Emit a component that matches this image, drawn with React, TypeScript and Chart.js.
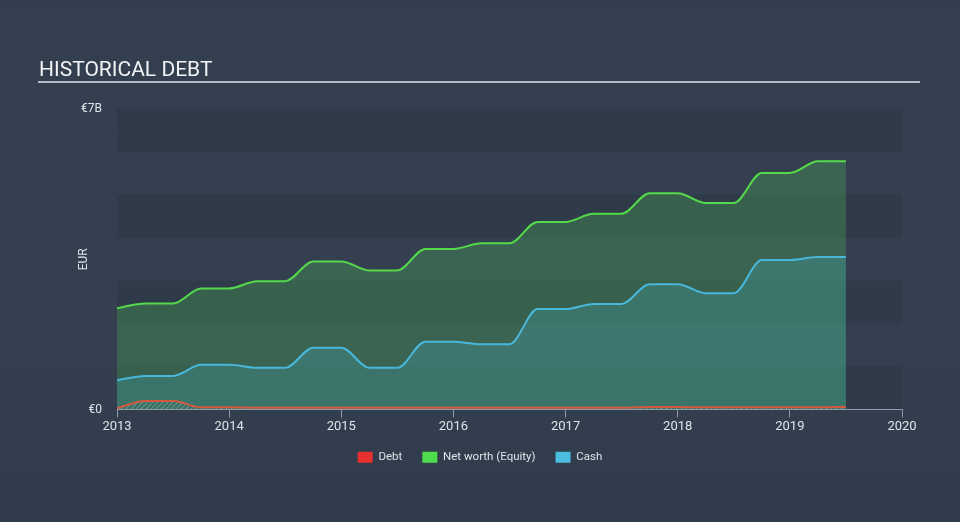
import React, { useEffect, useRef } from 'react';
import { Chart, registerables } from 'chart.js';

Chart.register(...registerables);

const titleText = 'HISTORICAL DEBT';
const seriesLabels = ['Debt', 'Net worth (Equity)', 'Cash'];
const legendColors = ['#e8302e', '#4fdc4c', '#4bbde0'];

const quarters = [
  2013, 2013.25, 2013.5, 2013.75, 2014, 2014.25, 2014.5, 2014.75, 2015,
  2015.25, 2015.5, 2015.75, 2016, 2016.25, 2016.5, 2016.75, 2017,
  2017.25, 2017.5, 2017.75, 2018, 2018.25, 2018.5, 2018.75, 2019,
  2019.25, 2019.5,
];

const debt = [
  0.03, 0.2, 0.2, 0.05, 0.05, 0.04, 0.04, 0.04, 0.04,
  0.04, 0.04, 0.04, 0.04, 0.04, 0.04, 0.04, 0.04,
  0.04, 0.04, 0.06, 0.06, 0.05, 0.05, 0.05, 0.05,
  0.05, 0.06,
];

const netWorth = [
  2.36, 2.47, 2.47, 2.82, 2.82, 2.99, 2.99, 3.45, 3.45,
  3.24, 3.24, 3.74, 3.74, 3.87, 3.87, 4.37, 4.37,
  4.56, 4.56, 5.04, 5.04, 4.81, 4.81, 5.51, 5.51,
  5.78, 5.78,
];

const cash = [
  0.68, 0.78, 0.78, 1.04, 1.04, 0.97, 0.97, 1.44, 1.44,
  0.97, 0.97, 1.58, 1.58, 1.52, 1.52, 2.34, 2.34,
  2.46, 2.46, 2.92, 2.92, 2.71, 2.71, 3.48, 3.48,
  3.55, 3.55,
];

const yTicks = [0, 7];
const xTicks = [2013, 2014, 2015, 2016, 2017, 2018, 2019, 2020];

const toPoints = (vals: number[]) => vals.map((v, i) => ({ x: quarters[i], y: v }));

export default function App() {
  const ref = useRef<HTMLCanvasElement>(null);

  useEffect(() => {
    document.body.style.margin = '0';
    const canvas = ref.current!;
    const ctx = canvas.getContext('2d')!;

    const pc = document.createElement('canvas');
    pc.width = 5;
    pc.height = 5;
    const p = pc.getContext('2d')!;
    p.strokeStyle = 'rgba(175,175,175,0.55)';
    p.lineWidth = 1;
    p.beginPath();
    p.moveTo(0, 5);
    p.lineTo(5, 0);
    p.moveTo(-1, 1);
    p.lineTo(1, -1);
    p.moveTo(4, 6);
    p.lineTo(6, 4);
    p.stroke();
    const hatch = ctx.createPattern(pc, 'repeat');

    const bandsPlugin = {
      id: 'bands',
      beforeDraw(chart: any) {
        const { ctx: c, chartArea } = chart;
        const y = chart.scales.y;
        c.save();
        c.fillStyle = 'rgba(20,28,40,0.13)';
        for (let v = 0; v < 7; v += 2) {
          const top = y.getPixelForValue(v + 1);
          const bottom = y.getPixelForValue(v);
          c.fillRect(chartArea.left, top, chartArea.right - chartArea.left, bottom - top);
        }
        c.restore();
      },
    };

    const titlePlugin = {
      id: 'titleLine',
      afterDraw(chart: any) {
        const c = chart.ctx;
        c.save();
        c.fillStyle = '#f2f3f5';
        c.font = '21px Roboto';
        c.textBaseline = 'alphabetic';
        c.textAlign = 'left';
        c.fillText(titleText, 39, 76);
        c.fillStyle = '#b4bbc4';
        c.fillRect(38, 81, 882, 2);
        c.restore();
      },
    };

    const chart = new Chart(canvas, {
      type: 'line',
      data: {
        datasets: [
          {
            label: seriesLabels[0],
            data: toPoints(debt),
            borderColor: '#d4593f',
            backgroundColor: hatch as any,
            borderWidth: 2,
            fill: 'origin',
            pointRadius: 0,
            cubicInterpolationMode: 'monotone',
            order: 0,
          },
          {
            label: seriesLabels[1],
            data: toPoints(netWorth),
            borderColor: '#55d94b',
            backgroundColor: 'rgba(85,230,90,0.22)',
            borderWidth: 2,
            fill: 'origin',
            pointRadius: 0,
            cubicInterpolationMode: 'monotone',
            order: 2,
          },
          {
            label: seriesLabels[2],
            data: toPoints(cash),
            borderColor: '#49b7da',
            backgroundColor: 'rgba(70,180,200,0.24)',
            borderWidth: 2,
            fill: 'origin',
            pointRadius: 0,
            cubicInterpolationMode: 'monotone',
            order: 1,
          },
        ],
      },
      options: {
        responsive: false,
        animation: false,
        layout: { padding: { left: 58, right: 58, top: 109, bottom: 49 } },
        plugins: {
          title: { display: false },
          tooltip: { enabled: false },
          legend: {
            display: true,
            position: 'bottom',
            labels: {
              color: '#dfe3e8',
              font: { family: 'Roboto', size: 11.5 },
              boxWidth: 15,
              boxHeight: 11,
              padding: 20,
              generateLabels: (ch: any) =>
                ch.data.datasets.map((ds: any, i: number) => ({
                  text: ds.label,
                  fillStyle: legendColors[i],
                  strokeStyle: legendColors[i],
                  lineWidth: 0,
                  hidden: false,
                  datasetIndex: i,
                  fontColor: '#dfe3e8',
                })),
            },
          },
        },
        scales: {
          x: {
            type: 'linear',
            min: 2013,
            max: 2020,
            afterBuildTicks: (s: any) => {
              s.ticks = xTicks.map((v) => ({ value: v }));
            },
            afterFit: (s: any) => {
              s.height = 22;
            },
            grid: { drawOnChartArea: false, drawTicks: true, tickLength: 8, color: '#909aa8' },
            border: { display: true, color: '#909aa8', width: 1 },
            ticks: {
              color: '#dfe3e8',
              font: { family: 'Roboto', size: 13 },
              padding: 1,
              maxRotation: 0,
              autoSkip: false,
              callback: (v: any) => String(v),
            },
          },
          y: {
            type: 'linear',
            min: 0,
            max: 7,
            afterBuildTicks: (s: any) => {
              s.ticks = yTicks.map((v) => ({ value: v }));
            },
            afterFit: (s: any) => {
              s.width = 59;
            },
            grid: { display: false, drawTicks: false },
            border: { display: false },
            ticks: {
              color: '#dfe3e8',
              font: { family: 'Roboto', size: 12 },
              padding: 15,
              callback: (v: any) => (v === 0 ? '€0' : `€${v}B`),
            },
            title: {
              display: true,
              text: 'EUR',
              color: '#dfe3e8',
              font: { family: 'Roboto', size: 12 },
              padding: { top: 19, bottom: 0 },
            },
          },
        },
      },
      plugins: [bandsPlugin, titlePlugin],
    });

    return () => chart.destroy();
  }, []);

  return (
    <div
      style={{
        position: 'fixed',
        left: 0,
        top: 0,
        width: 960,
        height: 522,
        background: 'linear-gradient(180deg, #333f4f 0%, #344050 60%, #303c4c 100%)',
      }}
    >
      <canvas ref={ref} width={960} height={522} style={{ display: 'block' }} />
    </div>
  );
}
